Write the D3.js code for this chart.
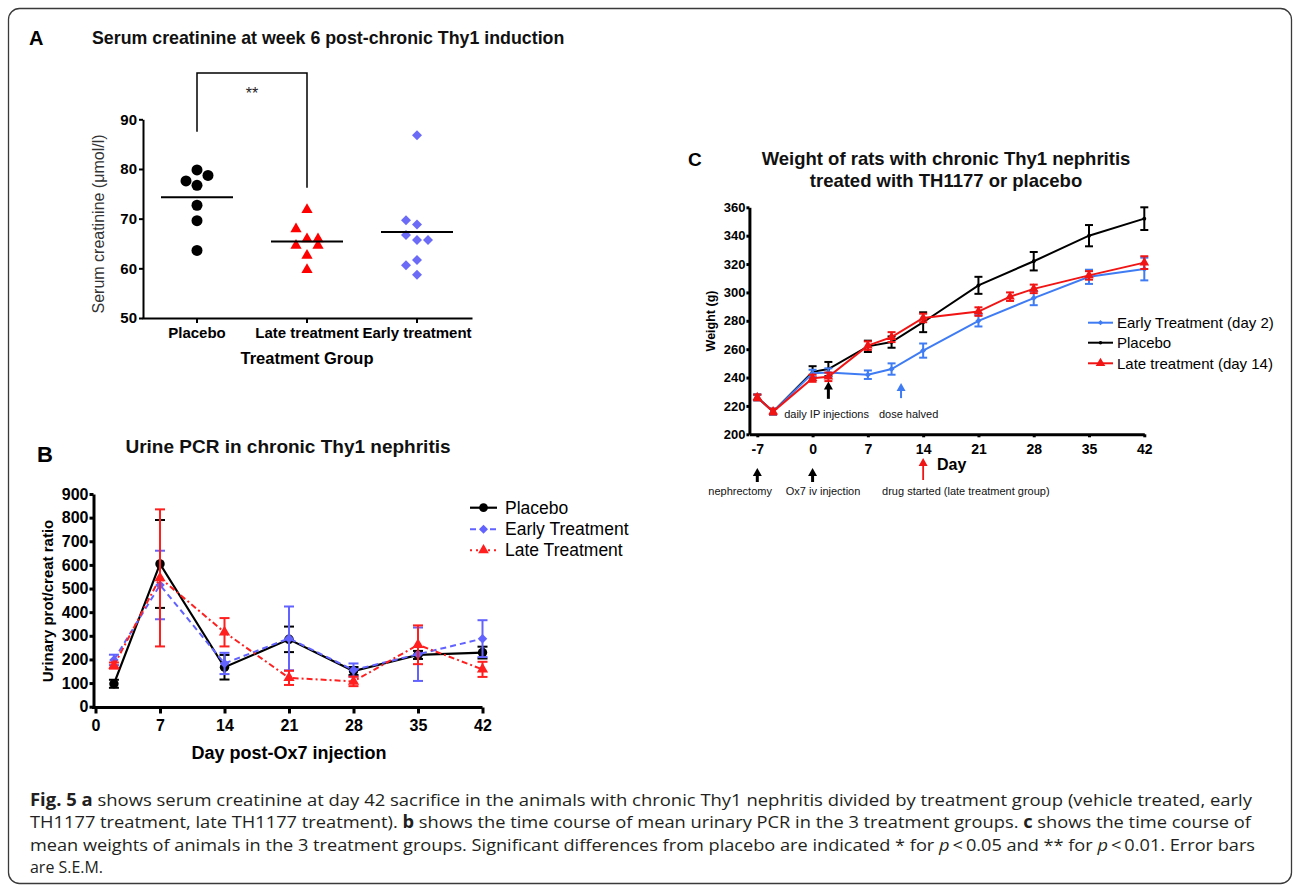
<!DOCTYPE html>
<html>
<head>
<meta charset="utf-8">
<script src="https://cdn.jsdelivr.net/npm/d3@7"></script>
<style>
  body { margin: 0; background: #fff; }
  svg text { font-family: "Liberation Sans", Arial, Helvetica, sans-serif; }
  svg text.caption { font-family: "Open Sans", "Noto Sans", sans-serif; }
</style>
</head>
<body>
<div id="figure"></div>
<script>
// PANEL A: serum creatinine at week 6
const groupsA = ["Placebo", "Late treatment", "Early treatment"];
const creatPlacebo = [79.8, 76.7, 72.7, 69.6, 63.6, 77.6, 78.7];
const creatLate = [71.8, 65.9, 62.6, 59.7, 67.9, 65.9, 64.6, 64.6];
const creatEarly = [86.8, 68.8, 65.7, 61.7, 58.7, 69.7, 66.7, 65.7, 60.6];
const creatMeans = [74.3, 65.4, 67.3];
const ticksA = [50, 60, 70, 80, 90];
// significance bracket placebo vs late (y values in umol/l)
const bracketA = [87.5, 99.3, 76.2];

// PANEL B: urine PCR
const daysB = [2, 7, 14, 21, 28, 35, 42];
const pcrPlacebo = [97, 604, 167, 285, 151, 219, 229];
const pcrPlaceboSem = [17, 186, 52, 54, 17, 17, 25];
const pcrEarly = [198, 515, 183, 289, 155, 222, 288];
const pcrEarlySem = [22, 145, 45, 135, 28, 113, 78];
const pcrLate = [174, 545, 315, 122, 107, 262, 158];
const pcrLateSem = [13, 290, 60, 30, 20, 82, 32];
const ticksBy = [0, 100, 200, 300, 400, 500, 600, 700, 800, 900];
const ticksBx = [0, 7, 14, 21, 28, 35, 42];

// PANEL C: weights
const daysPlaceboC = [-7, -5, 0, 2, 7, 10, 14, 21, 28, 35, 42];
const weightPlacebo = [226, 216, 244, 246, 262, 265, 279, 305, 322, 340, 352];
const weightPlaceboSem = [2, 2, 4, 5, 4, 4, 7, 6, 6.5, 7.5, 8];
const daysEarlyC = [-7, -5, 0, 2, 7, 10, 14, 21, 28, 35, 42];
const weightEarly = [226, 216, 243, 243.5, 242, 246, 259, 280, 296, 311, 316.5];
const weightEarlySem = [2, 2, 2.5, 3, 3, 4, 5, 4, 5, 5, 8];
const daysLateC = [-7, -5, 0, 2, 7, 10, 14, 21, 25, 28, 35, 42];
const weightLate = [226, 216, 239.5, 240.5, 262.5, 268.5, 282, 286.5, 297, 302.5, 312, 321];
const weightLateSem = [2, 2, 2.5, 3, 3, 3.5, 3, 3, 3, 3, 3, 4.5];
const ticksCy = [200, 220, 240, 260, 280, 300, 320, 340, 360];
const ticksCx = [-7, 0, 7, 14, 21, 28, 35, 42];

// caption lines, style: b = bold, i = italic
const captionLines = [
  [["Fig. 5 a", "b"], [" shows serum creatinine at day 42 sacrifice in the animals with chronic Thy1 nephritis divided by treatment group (vehicle treated, early", ""]],
  [["TH1177 treatment, late TH1177 treatment). ", ""], ["b", "b"], [" shows the time course of mean urinary PCR in the 3 treatment groups. ", ""], ["c", "b"], [" shows the time course of", ""]],
  [["mean weights of animals in the 3 treatment groups. Significant differences from placebo are indicated * for ", ""], ["p", "i"], ["\u2009<\u20090.05 and ** for ", ""], ["p", "i"], ["\u2009<\u20090.01. Error bars", ""]],
  [["are S.E.M.", ""]]
];
const captionWidths = [1222, 1221, 1225, 73];

const width = 1293;
const height = 885;

const svg = d3.select("#figure")
    .append("svg")
    .attr("width", width)
    .attr("height", height);

svg.append("rect")
    .attr("x", 8.5).attr("y", 8.5)
    .attr("width", 1283).attr("height", 875)
    .attr("rx", 11)
    .attr("fill", "none")
    .attr("stroke", "#3a3a3a")
    .attr("stroke-width", 1.3);

function styleAxis(g, fontSize, strokeW) {
  g.select(".domain").attr("stroke", "#000").attr("stroke-width", strokeW);
  g.selectAll(".tick line").attr("stroke", "#000").attr("stroke-width", strokeW);
  g.selectAll(".tick text")
      .attr("fill", "#000")
      .attr("font-size", fontSize)
      .attr("font-weight", "bold");
}

function marker(type, size) {
  if (type === "circle") return d3.symbol(d3.symbolCircle, size)();
  if (type === "triangle") return d3.symbol(d3.symbolTriangle, size)();
  return d3.symbol(d3.symbolSquare, size)();
}

function markerTransform(type, x, y) {
  return `translate(${x},${y})` + (type === "diamond" ? " rotate(45)" : "");
}

// ---------------- PANEL A ----------------
const xA = d3.scaleBand().domain(groupsA).range([142, 472]);
const yA = d3.scaleLinear().domain([50, 90]).range([318, 119.3]);
const gA = svg.append("g");

gA.append("text").attr("x", 29).attr("y", 45)
    .attr("font-size", 20).attr("font-weight", "bold").text("A");
gA.append("text").attr("x", 92).attr("y", 44)
    .attr("font-size", 17.8).attr("font-weight", "bold").attr("fill", "#111")
    .text("Serum creatinine at week 6 post-chronic Thy1 induction");

gA.append("g")
    .attr("transform", "translate(143,0)")
    .call(d3.axisLeft(yA).tickValues(ticksA).tickSize(4).tickPadding(2).tickSizeOuter(0))
    .call(g => styleAxis(g, 15, 2));

gA.append("g")
    .attr("transform", "translate(0,318)")
    .call(d3.axisBottom(xA).tickSize(5).tickPadding(4).tickSizeOuter(0))
    .call(g => styleAxis(g, 15, 2));

gA.append("text")
    .attr("x", 307).attr("y", 364)
    .attr("text-anchor", "middle")
    .attr("font-size", 16.5).attr("font-weight", "bold")
    .text("Treatment Group");

gA.append("text")
    .attr("transform", "translate(98,224) rotate(-90)")
    .attr("dy", "0.35em")
    .attr("text-anchor", "middle")
    .attr("font-size", 16).attr("fill", "#333")
    .text("Serum creatinine (\u03bcmol/l)");

// spread points sideways when they would overlap
function swarm(values, cx, slot, minDist) {
  const placed = [];
  values.forEach(v => {
    const py = yA(v);
    let best = cx, bestD = -1;
    for (const k of [0, -1, 1]) {
      const px = cx + k * slot;
      const d = placed.length ? d3.min(placed, p => Math.hypot(p.x - px, p.y - py)) : Infinity;
      if (d >= minDist) { best = px; break; }
      if (d >= bestD) { bestD = d; best = px; }
    }
    placed.push({x: best, y: py, v: v});
  });
  return placed;
}

const seriesA = [
  {values: creatPlacebo, type: "circle", size: 95, color: "#000"},
  {values: creatLate, type: "triangle", size: 55, color: "#ff0000"},
  {values: creatEarly, type: "diamond", size: 50, color: "#6b6bf7"}
];

seriesA.forEach((s, i) => {
  const cx = xA(groupsA[i]) + xA.bandwidth() / 2;
  gA.append("g")
    .selectAll("path")
    .data(swarm(s.values, cx, 11, 10.5))
    .join("path")
    .attr("d", marker(s.type, s.size))
    .attr("transform", d => markerTransform(s.type, d.x, d.y))
    .attr("fill", s.color);
});

gA.append("g")
    .selectAll("line")
    .data(creatMeans)
    .join("line")
    .attr("x1", (d, i) => xA(groupsA[i]) + xA.bandwidth() / 2 - 36)
    .attr("x2", (d, i) => xA(groupsA[i]) + xA.bandwidth() / 2 + 36)
    .attr("y1", d => yA(d))
    .attr("y2", d => yA(d))
    .attr("stroke", "#000")
    .attr("stroke-width", 2);

const bx0 = xA(groupsA[0]) + xA.bandwidth() / 2;
const bx1 = xA(groupsA[1]) + xA.bandwidth() / 2;
gA.append("path")
    .attr("d", `M${bx0},${yA(bracketA[0])}V${yA(bracketA[1])}H${bx1}V${yA(bracketA[2])}`)
    .attr("fill", "none")
    .attr("stroke", "#000")
    .attr("stroke-width", 1.5);
gA.append("text")
    .attr("x", (bx0 + bx1) / 2).attr("y", 99)
    .attr("text-anchor", "middle")
    .attr("font-size", 16).attr("fill", "#222")
    .text("**");

// shared drawing of a line series with error bars
function drawSeries(g, x, y, days, vals, sems, o) {
  const pts = days.map((d, i) => ({x: x(d), y: y(vals[i]), lo: y(vals[i] - sems[i]), hi: y(vals[i] + sems[i])}));
  const eb = g.append("g").attr("stroke", o.color).attr("stroke-width", o.ebWidth);
  eb.selectAll("line.v").data(pts).join("line").attr("class", "v")
      .attr("x1", d => d.x).attr("x2", d => d.x).attr("y1", d => d.lo).attr("y2", d => d.hi);
  eb.selectAll("line.t").data(pts).join("line").attr("class", "t")
      .attr("x1", d => d.x - o.cap).attr("x2", d => d.x + o.cap).attr("y1", d => d.hi).attr("y2", d => d.hi);
  eb.selectAll("line.b").data(pts).join("line").attr("class", "b")
      .attr("x1", d => d.x - o.cap).attr("x2", d => d.x + o.cap).attr("y1", d => d.lo).attr("y2", d => d.lo);

  g.append("path")
      .datum(pts)
      .attr("d", d3.line().x(d => d.x).y(d => d.y))
      .attr("fill", "none")
      .attr("stroke", o.color)
      .attr("stroke-width", o.lineWidth)
      .attr("stroke-dasharray", o.dash || null);

  g.append("g")
    .selectAll("path")
    .data(pts)
    .join("path")
    .attr("d", marker(o.type, o.size))
    .attr("transform", d => markerTransform(o.type, d.x, d.y))
    .attr("fill", o.color);
}

function drawLegend(g, items, x0, x1, tx, fontSize) {
  items.forEach(it => {
    g.append("line")
        .attr("x1", x0).attr("x2", x1).attr("y1", it.y).attr("y2", it.y)
        .attr("stroke", it.color).attr("stroke-width", it.lineWidth)
        .attr("stroke-dasharray", it.dash || null);
    g.append("path")
        .attr("d", marker(it.type, it.size))
        .attr("transform", markerTransform(it.type, (x0 + x1) / 2, it.y))
        .attr("fill", it.color);
    g.append("text")
        .attr("x", tx).attr("y", it.y).attr("dy", "0.35em")
        .attr("font-size", fontSize)
        .text(it.label);
  });
}

// ---------------- PANEL B ----------------
const xB = d3.scaleLinear().domain([0, 42]).range([95.5, 482.5]);
const yB = d3.scaleLinear().domain([0, 900]).range([706.7, 494]);
const gB = svg.append("g");

gB.append("text").attr("x", 37).attr("y", 462)
    .attr("font-size", 22).attr("font-weight", "bold").text("B");
gB.append("text").attr("x", 288).attr("y", 453)
    .attr("text-anchor", "middle")
    .attr("font-size", 19).attr("font-weight", "bold").attr("fill", "#111")
    .text("Urine PCR in chronic Thy1 nephritis");

gB.append("g")
    .attr("transform", "translate(93.5,0)")
    .call(d3.axisLeft(yB).tickValues(ticksBy).tickSize(4).tickPadding(1).tickSizeOuter(0))
    .call(g => styleAxis(g, 16, 3));

gB.append("g")
    .attr("transform", "translate(0,707.5)")
    .call(d3.axisBottom(xB).tickValues(ticksBx).tickSize(6).tickPadding(6).tickSizeOuter(0))
    .call(g => styleAxis(g, 16, 3))
    .call(g => g.select(".domain").attr("d", `M92,0H${xB(42)}`));

gB.append("text")
    .attr("x", 289).attr("y", 759)
    .attr("text-anchor", "middle")
    .attr("font-size", 18).attr("font-weight", "bold")
    .text("Day post-Ox7 injection");

gB.append("text")
    .attr("transform", "translate(48,601) rotate(-90)")
    .attr("dy", "0.35em")
    .attr("text-anchor", "middle")
    .attr("font-size", 15).attr("font-weight", "bold")
    .text("Urinary prot/creat ratio");

drawSeries(gB, xB, yB, daysB, pcrPlacebo, pcrPlaceboSem,
    {color: "#000", lineWidth: 2.2, ebWidth: 2, cap: 5, type: "circle", size: 70});
drawSeries(gB, xB, yB, daysB, pcrEarly, pcrEarlySem,
    {color: "#6262ff", lineWidth: 2, ebWidth: 2, cap: 5, type: "diamond", size: 45, dash: "6,4"});
drawSeries(gB, xB, yB, daysB, pcrLate, pcrLateSem,
    {color: "#ff1f1f", lineWidth: 2, ebWidth: 2, cap: 5, type: "triangle", size: 55, dash: "6,3,2,3"});

drawLegend(gB, [
  {label: "Placebo", y: 507.7, color: "#000", lineWidth: 2.2, type: "circle", size: 60},
  {label: "Early Treatment", y: 529.3, color: "#6262ff", lineWidth: 2, type: "diamond", size: 40, dash: "6,4"},
  {label: "Late Treatment", y: 550.2, color: "#ff1f1f", lineWidth: 2, type: "triangle", size: 50, dash: "2,4"}
], 470, 497, 505, 17.5);

// ---------------- PANEL C ----------------
const xC = d3.scaleLinear().domain([-8, 42]).range([749.4, 1144.3]);
const yC = d3.scaleLinear().domain([200, 360]).range([434.3, 207.3]);
const gC = svg.append("g");

gC.append("text").attr("x", 688).attr("y", 166)
    .attr("font-size", 19).attr("font-weight", "bold").text("C");
gC.append("text")
    .attr("x", 946).attr("text-anchor", "middle")
    .attr("font-size", 18.5).attr("font-weight", "bold").attr("fill", "#111")
    .selectAll("tspan")
    .data(["Weight of rats with chronic Thy1 nephritis", "treated with TH1177 or placebo"])
    .join("tspan")
    .attr("x", 946)
    .attr("y", (d, i) => 165 + i * 22)
    .text(d => d);

gC.append("g")
    .attr("transform", "translate(749.4,0)")
    .call(d3.axisLeft(yC).tickValues(ticksCy).tickSize(3).tickPadding(1).tickSizeOuter(0))
    .call(g => styleAxis(g, 13, 3));

gC.append("g")
    .attr("transform", "translate(0,434.3)")
    .call(d3.axisBottom(xC).tickValues(ticksCx).tickSize(3).tickPadding(7).tickSizeOuter(0).tickFormat(d => String(d)))
    .call(g => styleAxis(g, 14, 3));

gC.append("text")
    .attr("x", 937).attr("y", 470)
    .attr("font-size", 16).attr("font-weight", "bold")
    .text("Day");

gC.append("text")
    .attr("transform", "translate(711,321) rotate(-90)")
    .attr("dy", "0.35em")
    .attr("text-anchor", "middle")
    .attr("font-size", 12.5).attr("font-weight", "bold")
    .text("Weight (g)");

drawSeries(gC, xC, yC, daysPlaceboC, weightPlacebo, weightPlaceboSem,
    {color: "#000", lineWidth: 2, ebWidth: 2, cap: 4, type: "circle", size: 12});
drawSeries(gC, xC, yC, daysEarlyC, weightEarly, weightEarlySem,
    {color: "#3f7cf4", lineWidth: 2, ebWidth: 2, cap: 4, type: "diamond", size: 18});
drawSeries(gC, xC, yC, daysLateC, weightLate, weightLateSem,
    {color: "#f01414", lineWidth: 2, ebWidth: 2, cap: 4, type: "triangle", size: 40});

drawLegend(gC, [
  {label: "Early Treatment (day 2)", y: 322.7, color: "#3f7cf4", lineWidth: 2, type: "diamond", size: 14},
  {label: "Placebo", y: 342.7, color: "#000", lineWidth: 2, type: "circle", size: 10},
  {label: "Late treatment (day 14)", y: 363.3, color: "#f01414", lineWidth: 2, type: "triangle", size: 40}
], 1088, 1113, 1117, 15);

// annotation arrows: day on the x axis, tail and tip in pixels
function arrow(g, x, yTail, yTip, color, shaft) {
  g.append("line")
      .attr("x1", x).attr("x2", x).attr("y1", yTail).attr("y2", yTip + 6)
      .attr("stroke", color).attr("stroke-width", shaft);
  g.append("path")
      .attr("d", `M${x - 4.5},${yTip + 8}L${x},${yTip}L${x + 4.5},${yTip + 8}Z`)
      .attr("fill", color);
}

arrow(gC, xC(2), yC(225), yC(237.2), "#000", 3);
arrow(gC, xC(11.2), yC(225.5), yC(236.2), "#3f7cf4", 2);
arrow(gC, xC(-7), 482, 468, "#000", 3);
arrow(gC, xC(0), 482, 468, "#000", 3);
arrow(gC, xC(14), 480, 458, "#f01414", 1.8);

const notesC = [
  {text: "daily IP injections", day: -3.6, y: 418},
  {text: "dose halved", day: 8.4, y: 418},
  {text: "nephrectomy", day: -13.2, y: 495},
  {text: "Ox7 iv injection", day: -3.4, y: 495},
  {text: "drug started (late treatment group)", day: 8.8, y: 495}
];
gC.append("g")
    .selectAll("text")
    .data(notesC)
    .join("text")
    .attr("x", d => xC(d.day))
    .attr("y", d => d.y)
    .attr("font-size", 11)
    .attr("fill", "#111")
    .text(d => d.text);

// ---------------- CAPTION ----------------
const cap = svg.append("g");
captionLines.forEach((line, i) => {
  cap.append("text")
      .attr("class", "caption")
      .attr("x", 30)
      .attr("y", 806 + i * 22.4)
      .attr("font-size", 17)
      .attr("fill", "#231f20")
      .attr("textLength", captionWidths[i])
      .attr("lengthAdjust", "spacingAndGlyphs")
    .selectAll("tspan")
    .data(line)
    .join("tspan")
    .attr("font-weight", d => d[1] === "b" ? "bold" : null)
    .attr("font-style", d => d[1] === "i" ? "italic" : null)
    .text(d => d[0]);
});
</script>
</body>
</html>
